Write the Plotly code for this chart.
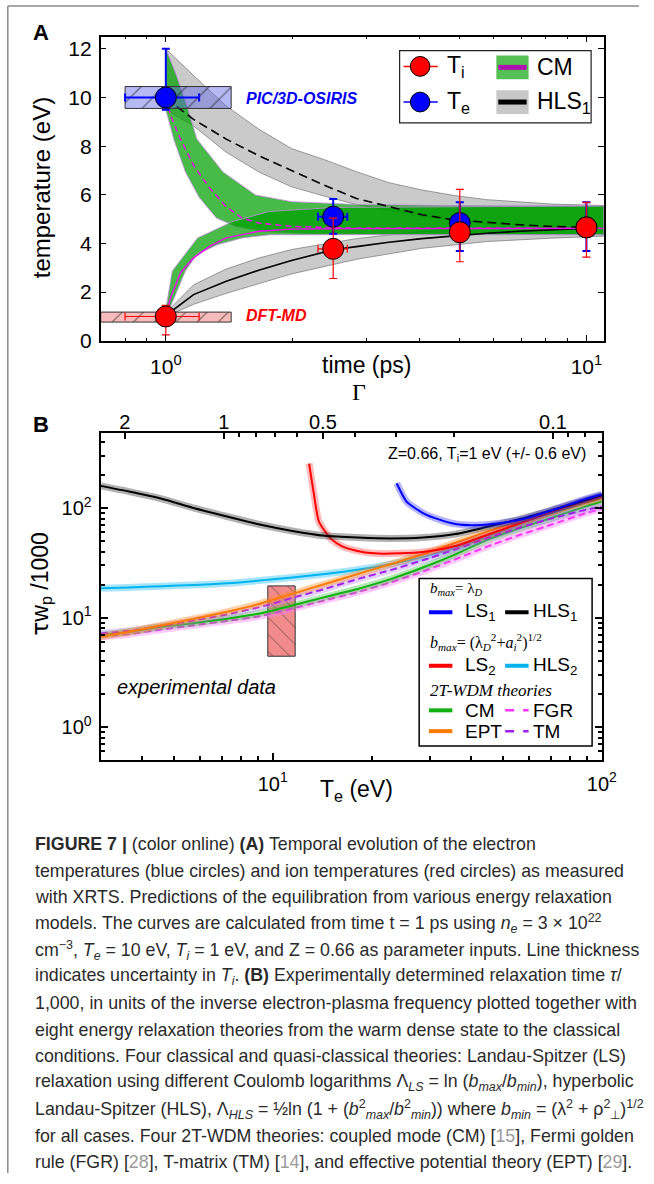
import plotly.graph_objects as go

W, H = 654, 1184
def px(x): return x / W
def py(y): return 1 - y / H

SANS = "Liberation Sans, Arial, sans-serif"
SERIF = "Liberation Serif, Times New Roman, serif"

# ---------------- Panel A data ----------------
t_meas = [1.0, 2.5, 5.0, 10.0]
Te_meas = [10.0, 5.1, 4.84, 4.66]
Te_err_up = [2.0, 0.73, 0.85, 1.03]
Te_err_dn = [0.5, 0.7, 1.15, 0.97]
Ti_meas = [1.0, 3.78, 4.46, 4.66]
Ti_err_up = [0.46, 1.26, 1.76, 1.03]
Ti_err_dn = [0.76, 1.22, 1.21, 1.22]
t_err = [0.2, 0.2, 0.0, 0.0]

# CM model (centre lines)
cm_te_t = [1.0, 1.027, 1.084, 1.164, 1.273, 1.392, 1.52, 1.663, 1.99, 2.84, 11.0]
cm_te_T = [10.0, 9.24, 8.29, 7.21, 6.26, 5.51, 5.04, 4.84, 4.70, 4.63, 4.62]
cm_ti_t = [1.0, 1.027, 1.084, 1.164, 1.273, 1.392, 1.663, 1.99, 2.84, 11.0]
cm_ti_T = [1.04, 1.79, 2.80, 3.41, 3.89, 4.23, 4.50, 4.59, 4.61, 4.62]
# CM uncertainty bands
cm_te_hi_t = [1.0, 1.055, 1.123, 1.185, 1.367, 1.634, 1.99, 2.84, 5.0, 11.0]
cm_te_hi_T = [12.0, 11.0, 9.65, 8.29, 6.94, 5.99, 5.72, 5.6, 5.56, 5.54]
cm_te_lo_t = [1.0, 1.044, 1.113, 1.2, 1.319, 1.468, 1.7, 2.2, 11.0]
cm_te_lo_T = [9.5, 8.29, 6.94, 5.9, 5.05, 4.7, 4.5, 4.4, 4.36]
cm_ti_hi_t = [1.0, 1.036, 1.19, 1.442, 1.755, 2.5, 11.0]
cm_ti_hi_T = [1.3, 2.87, 4.23, 4.9, 5.31, 5.48, 5.54]
cm_ti_lo_t = [1.0, 1.113, 1.185, 1.33, 1.52, 1.77, 11.0]
cm_ti_lo_T = [0.95, 2.87, 3.55, 3.96, 4.23, 4.36, 4.36]

# HLS1 model (centre lines)
hls_te_t = [1.0, 1.045, 1.164, 1.392, 1.663, 1.99, 2.377, 2.84, 3.39, 4.06, 4.85, 5.8, 6.93, 8.27, 9.9]
hls_te_T = [10.0, 9.72, 9.1, 8.29, 7.61, 7.0, 6.40, 5.85, 5.51, 5.18, 4.97, 4.86, 4.77, 4.70, 4.66]
hls_ti_t = [1.0, 1.164, 1.392, 1.663, 1.99, 2.5, 2.84, 3.39, 4.06, 4.85, 5.8, 6.93, 8.27, 9.9]
hls_ti_T = [1.04, 1.9, 2.45, 2.9, 3.3, 3.74, 3.87, 4.05, 4.2, 4.32, 4.42, 4.5, 4.57, 4.62]
# HLS1 uncertainty bands
hls_te_hi_t = [1.0, 1.164, 1.392, 1.663, 1.99, 2.377, 2.84, 3.39, 4.06, 4.85, 5.8, 6.93, 8.27, 11.0]
hls_te_hi_T = [12.0, 10.9, 9.65, 8.7, 7.9, 7.45, 6.95, 6.5, 6.2, 5.97, 5.8, 5.7, 5.62, 5.56]
hls_te_lo_t = [1.0, 1.164, 1.392, 1.663, 1.99, 2.377, 2.84, 4.06, 5.8, 8.27, 11.0]
hls_te_lo_T = [9.5, 8.83, 7.75, 6.94, 6.33, 5.95, 5.6, 5.1, 4.8, 4.65, 4.58]
hls_ti_hi_t = [1.0, 1.164, 1.392, 1.663, 1.99, 2.84, 4.06, 5.8, 11.0]
hls_ti_hi_T = [1.15, 2.3, 2.95, 3.4, 3.75, 4.2, 4.5, 4.65, 4.75]
hls_ti_lo_t = [1.0, 1.164, 1.392, 1.663, 1.99, 2.84, 4.06, 5.8, 8.27, 11.0]
hls_ti_lo_T = [1.0, 1.5, 1.95, 2.35, 2.75, 3.35, 3.8, 4.08, 4.22, 4.3]

# simulation boxes (time range, temperature range)
pic_t = [0.8, 1.43]
pic_T = [9.55, 10.45]
dft_t = [0.7, 1.43]
dft_T = [0.77, 1.18]

# ---------------- Panel B data ----------------
Te_grid = [3.0, 3.66, 4.6, 5.78, 7.26, 9.13, 11.47, 14.4, 18.1, 22.8, 28.6, 35.9, 45.2, 56.8, 71.3, 89.6, 100.0]
HLS1_tau = [160, 142, 122, 100, 84, 71, 62, 56, 54, 53, 54, 58, 68, 80, 97, 119, 132]
HLS2_tau = [18.6, 18.9, 19.4, 19.9, 20.6, 21.8, 23.3, 25.0, 27.4, 30.8, 35.9, 43.6, 55.6, 71, 90.4, 114, 125]
CM_tau = [6.92, 7.42, 8.24, 8.95, 9.79, 10.9, 12.9, 15.4, 18.3, 22.5, 28.7, 37.9, 51.9, 66.1, 82.6, 104, 115]
EPT_tau = [6.69, 7.42, 8.53, 9.79, 11.3, 13.4, 16.5, 20.3, 25.0, 30.8, 37.9, 48.4, 61.7, 76, 93.6, 114, 124]
TM_tau = [7.16, 7.58, 8.41, 9.45, 10.7, 12.5, 15.2, 18.3, 22.5, 27.2, 33.5, 42.1, 53.7, 67, 81.5, 96.9, 104]
FGR_tau = [6.69, 7.06, 7.79, 8.53, 9.33, 10.3, 12.1, 14.4, 17.1, 21.0, 26.4, 34.2, 45.1, 57.5, 71.9, 90.4, 98.9]
LS1_T = [23.8, 25.5, 28.6, 32.1, 35.9, 40.3, 45.2, 56.8, 71.3, 89.6, 100.0]
LS1_tau = [169, 115, 90.4, 78.7, 71.9, 70, 71, 78.7, 96.9, 122, 134]
LS2_T = [12.9, 13.3, 13.8, 14.4, 15.1, 16.2, 18.1, 20.3, 22.8, 28.6, 35.9, 45.2, 56.8, 71.3, 89.6, 100.0]
LS2_tau = [256, 142, 76, 61.7, 51.9, 45.1, 40.7, 38.7, 38.5, 39.8, 45.1, 57.5, 73.4, 93.6, 117, 128]
exp_T = [9.66, 11.7]
exp_tau = [4.44, 19.5]

GAMMA_T = 7.1  # Gamma = GAMMA_T / Te
gamma_major = [2, 1, 0.5, 0.1]
gamma_minor = [0.9, 0.8, 0.7, 0.6, 0.4, 0.3, 0.2, 0.09, 0.08]

fig = go.Figure()

def band(xhi, yhi, xlo, ylo, fillc, linec, xa="x", ya="y"):
    fig.add_trace(go.Scatter(
        x=list(xhi) + list(xlo)[::-1], y=list(yhi) + list(ylo)[::-1],
        fill="toself", fillcolor=fillc, mode="lines",
        line=dict(color=linec, width=1), xaxis=xa, yaxis=ya,
        hoverinfo="skip", showlegend=False))

# gray HLS bands
band(hls_te_hi_t, hls_te_hi_T, hls_te_lo_t, hls_te_lo_T, "rgba(150,150,150,0.5)", "rgba(130,130,130,0.8)")
band(hls_ti_hi_t, hls_ti_hi_T, hls_ti_lo_t, hls_ti_lo_T, "rgba(150,150,150,0.5)", "rgba(130,130,130,0.8)")
# green CM bands
band(cm_te_hi_t, cm_te_hi_T, cm_te_lo_t, cm_te_lo_T, "rgba(0,160,0,0.72)", "rgba(190,140,220,0.8)")
band(cm_ti_hi_t, cm_ti_hi_T, cm_ti_lo_t, cm_ti_lo_T, "rgba(0,160,0,0.72)", "rgba(190,140,220,0.8)")

# centre lines
fig.add_trace(go.Scatter(x=hls_te_t, y=hls_te_T, mode="lines",
                         line=dict(color="black", width=1.6, dash="9px,5px"), showlegend=False))
fig.add_trace(go.Scatter(x=hls_ti_t, y=hls_ti_T, mode="lines",
                         line=dict(color="black", width=1.6), showlegend=False))
fig.add_trace(go.Scatter(x=cm_te_t, y=cm_te_T, mode="lines",
                         line=dict(color="#ff00ff", width=1.4, dash="6px,4px"), showlegend=False))
fig.add_trace(go.Scatter(x=cm_ti_t, y=cm_ti_T, mode="lines",
                         line=dict(color="#ff00ff", width=1.4), showlegend=False))

# simulation boxes
def hatched_box(xr, yr, bg, shape, size, xa="x", ya="y"):
    fig.add_trace(go.Scatter(
        x=[xr[0], xr[1], xr[1], xr[0], xr[0]], y=[yr[0], yr[0], yr[1], yr[1], yr[0]],
        fill="toself", fillcolor=bg, mode="lines",
        line=dict(color="#333333", width=1),
        fillpattern=dict(shape=shape, fgcolor="#111111", bgcolor=bg, size=size, solidity=0.08),
        xaxis=xa, yaxis=ya, hoverinfo="skip", showlegend=False))

hatched_box(pic_t, pic_T, "rgba(90,100,230,0.45)", "/", 16)
hatched_box(dft_t, dft_T, "rgba(240,120,120,0.5)", "/", 15)

# measured points
fig.add_trace(go.Scatter(
    x=t_meas, y=Te_meas, mode="markers",
    marker=dict(size=21, color="#0000ff", line=dict(color="black", width=1)),
    error_y=dict(type="data", symmetric=False, array=Te_err_up, arrayminus=Te_err_dn,
                 color="#0000ff", thickness=2, width=4),
    error_x=dict(type="data", array=t_err, color="#0000ff", thickness=2, width=4),
    showlegend=False))
fig.add_trace(go.Scatter(
    x=t_meas, y=Ti_meas, mode="markers",
    marker=dict(size=21, color="#ff0000", line=dict(color="black", width=1)),
    error_y=dict(type="data", symmetric=False, array=Ti_err_up, arrayminus=Ti_err_dn,
                 color="#ff0000", thickness=1.2, width=4),
    error_x=dict(type="data", array=t_err, color="#ff0000", thickness=1.2, width=4),
    showlegend=False))

# ---------------- Panel B traces ----------------
hatched_box(exp_T, exp_tau, "rgba(240,120,120,0.85)", "\\", 12, xa="x2", ya="y2")

def curve(xs, ys, color, band_color, dash="solid"):
    fig.add_trace(go.Scatter(x=xs, y=ys, mode="lines", xaxis="x2", yaxis="y2",
                             line=dict(color=band_color, width=7, shape="spline", smoothing=0.6),
                             hoverinfo="skip", showlegend=False))
    fig.add_trace(go.Scatter(x=xs, y=ys, mode="lines", xaxis="x2", yaxis="y2",
                             line=dict(color=color, width=2, dash=dash, shape="spline", smoothing=0.6),
                             showlegend=False))

curve(Te_grid, HLS2_tau, "#00b4f0", "rgba(0,180,240,0.35)")
curve(Te_grid, FGR_tau, "#ff33ff", "rgba(255,120,255,0.4)", dash="7px,4px")
curve(Te_grid, CM_tau, "#10b010", "rgba(40,190,40,0.35)")
curve(Te_grid, TM_tau, "#a020f0", "rgba(180,120,240,0.35)", dash="7px,4px")
curve(Te_grid, EPT_tau, "#ff7a00", "rgba(255,140,40,0.4)")
curve(LS2_T, LS2_tau, "#ff0000", "rgba(255,60,60,0.35)")
curve(Te_grid, HLS1_tau, "#000000", "rgba(60,60,60,0.4)")
curve(LS1_T, LS1_tau, "#0000ff", "rgba(40,40,255,0.35)")

# ---------------- Axes ----------------
axA_dom_x = [px(103), px(618)]
axA_dom_y = [py(344), py(37)]
axB_dom_x = [px(103), px(616)]
axB_dom_y = [py(767), py(437)]

tickfontA = dict(family=SANS, size=21, color="black")
tickfontB = dict(family=SANS, size=20, color="black")

fig.update_layout(
    width=W, height=H, margin=dict(l=0, r=0, t=0, b=0),
    paper_bgcolor="white", plot_bgcolor="white", showlegend=False,
    xaxis=dict(domain=axA_dom_x, anchor="y", type="log", range=[-0.155, 1.0414],
               tickvals=[1, 10], ticktext=["10<sup>0</sup>", "10<sup>1</sup>"],
               ticks="inside", ticklen=6, tickwidth=1.2, tickcolor="black",
               minor=dict(tickvals=[0.7, 0.8, 0.9, 2, 3, 4, 5, 6, 7, 8, 9], ticks="inside",
                          ticklen=3, tickcolor="black"),
               showline=True, linecolor="black", linewidth=1.5, mirror="ticks",
               showgrid=False, zeroline=False, tickfont=tickfontA, ticklabelstandoff=6),
    yaxis=dict(domain=axA_dom_y, anchor="x", range=[0, 12.5], tickvals=[0, 2, 4, 6, 8, 10, 12],
               ticks="inside", ticklen=6, tickwidth=1.2, tickcolor="black",
               showline=True, linecolor="black", linewidth=1.5, mirror="ticks",
               showgrid=False, zeroline=False, tickfont=tickfontA, ticklabelstandoff=3),
    xaxis2=dict(domain=axB_dom_x, anchor="y2", type="log", range=[0.4771, 2.0],
                tickvals=[10, 100], ticktext=["10<sup>1</sup>", "10<sup>2</sup>"],
                ticks="inside", ticklen=7, tickwidth=1.5, tickcolor="black",
                minor=dict(tickvals=[3, 4, 5, 6, 7, 8, 9, 20, 30, 40, 50, 60, 70, 80, 90],
                           ticks="inside", ticklen=4, tickcolor="black"),
                showline=True, linecolor="black", linewidth=2, mirror=True,
                showgrid=False, zeroline=False, tickfont=tickfontB, ticklabelstandoff=5),
    yaxis2=dict(domain=axB_dom_y, anchor="x2", type="log", range=[-0.3, 2.688],
                tickvals=[1, 10, 100], ticktext=["10<sup>0</sup>", "10<sup>1</sup>", "10<sup>2</sup>"],
                ticks="inside", ticklen=7, tickwidth=1.5, tickcolor="black",
                minor=dict(tickvals=[0.6, 0.7, 0.8, 0.9, 2, 3, 4, 5, 6, 7, 8, 9,
                                     20, 30, 40, 50, 60, 70, 80, 90, 200, 300, 400],
                           ticks="inside", ticklen=4, tickcolor="black"),
                showline=True, linecolor="black", linewidth=2, mirror="ticks",
                showgrid=False, zeroline=False, tickfont=tickfontB, ticklabelstandoff=3),
    xaxis3=dict(overlaying="x2", anchor="y2", side="top", type="log", range=[0.4771, 2.0],
                tickvals=[GAMMA_T / g for g in gamma_major], ticktext=[str(g) for g in gamma_major],
                ticks="inside", ticklen=6, tickwidth=1.5, tickcolor="black",
                minor=dict(tickvals=[GAMMA_T / g for g in gamma_minor], ticks="inside",
                           ticklen=4, tickcolor="black"),
                showline=True, linecolor="black", linewidth=2,
                showgrid=False, zeroline=False, tickfont=tickfontB, ticklabelstandoff=-6),
)
# dummy trace to activate xaxis3
fig.add_trace(go.Scatter(x=[GAMMA_T / g for g in gamma_major], y=[None] * 4, xaxis="x3", yaxis="y2",
                         mode="markers", showlegend=False, hoverinfo="skip"))

ann = []
shapes = []
def text(x, y, s, size, color="black", family=SANS, anchor="center", angle=0):
    ann.append(dict(x=px(x), y=py(y), xref="paper", yref="paper", text=s, showarrow=False,
                    xanchor=anchor, yanchor="middle", textangle=angle,
                    font=dict(family=family, size=size, color=color)))

# frame
shapes.append(dict(type="line", xref="paper", yref="paper", x0=px(8), x1=1, y0=py(6), y1=py(6),
                   line=dict(color="#8a8a8a", width=1.5)))
shapes.append(dict(type="line", xref="paper", yref="paper", x0=px(8), x1=px(8), y0=py(6), y1=0,
                   line=dict(color="#8a8a8a", width=1.5)))

# Panel A labels
text(42, 33, "<b>A</b>", 22)
text(42, 190, "temperature (eV)", 24, angle=-90)
text(375, 368, "time (ps)", 23)
text(250, 99, "<b><i>PIC/3D-OSIRIS</i></b>", 16, color="#0000ff", anchor="left")
text(250, 318, "<b><i>DFT-MD</i></b>", 16, color="#ff0000", anchor="left")

# Panel A legend
shapes.append(dict(type="rect", xref="paper", yref="paper", x0=px(409), x1=px(605), y0=py(124), y1=py(51),
                   line=dict(color="#222222", width=1.2), fillcolor="white"))
for yy, col, lab in [(67, "#ff0000", "T<sub>i</sub>"), (103, "#0000ff", "T<sub>e</sub>")]:
    shapes.append(dict(type="line", xref="paper", yref="paper", x0=px(413), x1=px(448), y0=py(yy), y1=py(yy),
                       line=dict(color=col, width=1.5)))
    shapes.append(dict(type="circle", xref="paper", yref="paper", x0=px(420), x1=px(440),
                       y0=py(yy + 10), y1=py(yy - 10), fillcolor=col, line=dict(color="black", width=1)))
    text(455, yy, lab, 23, anchor="left")
for yy, bg, lc, lab in [(68, "#55c055", "#b010b0", "CM"), (103, "#c8c8c8", "#000000", "HLS<sub>1</sub>")]:
    shapes.append(dict(type="rect", xref="paper", yref="paper", x0=px(508), x1=px(541),
                       y0=py(yy + 12), y1=py(yy - 12), fillcolor=bg, line=dict(width=0)))
    shapes.append(dict(type="line", xref="paper", yref="paper", x0=px(510), x1=px(539), y0=py(yy), y1=py(yy),
                       line=dict(color=lc, width=5)))
    text(548, yy, lab, 23, anchor="left")

# Panel B labels
text(42, 428, "<b>B</b>", 22)
text(367, 396, "Γ", 24, family=SERIF)
text(42, 590, "<span style='font-family:DejaVu Sans'>τ</span>w<sub>p</sub> /1000", 23, angle=-90)
text(365, 798, "T<sub>e</sub> (eV)", 23)
text(602, 459, "Z=0.66, T<sub>i</sub>=1 eV (+/- 0.6 eV)", 16, anchor="right")
text(118, 693, "<i>experimental data</i>", 20, anchor="left")

# Panel B legend
shapes.append(dict(type="rect", xref="paper", yref="paper", x0=px(429), x1=px(606), y0=py(753), y1=py(584),
                   line=dict(color="black", width=1.5), fillcolor="white"))
text(438, 595, "<i>b<sub>max</sub></i>= λ<sub><i>D</i></sub>", 15, family=SERIF, anchor="left")
text(438, 648, "<i>b<sub>max</sub></i>= (λ<sub><i>D</i></sub><sup>2</sup>+<i>a</i><sub><i>i</i></sub><sup>2</sup>)<sup>1/2</sup>",
     16, family=SERIF, anchor="left")
text(438, 697, "<i>2T-WDM theories</i>", 17, family=SERIF, anchor="left")
legB = [
    (618, "#0000ff", "solid", "LS<sub>1</sub>", "#000000", "solid", "HLS<sub>1</sub>"),
    (672, "#ff0000", "solid", "LS<sub>2</sub>", "#00b4f0", "solid", "HLS<sub>2</sub>"),
    (717, "#10b010", "solid", "CM", "#ff33ff", "dash", "FGR"),
    (738, "#ff7a00", "solid", "EPT", "#a020f0", "dash", "TM"),
]
for yy, c1, d1, l1, c2, d2, l2 in legB:
    shapes.append(dict(type="line", xref="paper", yref="paper", x0=px(439), x1=px(463), y0=py(yy), y1=py(yy),
                       line=dict(color=c1, width=4, dash=d1)))
    shapes.append(dict(type="line", xref="paper", yref="paper", x0=px(517), x1=px(541), y0=py(yy), y1=py(yy),
                       line=dict(color=c2, width=2.5 if d2 == "dash" else 4, dash=d2)))
    text(474, yy, l1, 19, anchor="left")
    text(543, yy, l2, 19, anchor="left")

# caption
GR = "<span style='color:#9a9a9a'>"
caption = [
    "<b>FIGURE 7 |</b> (color online) <b>(A)</b> Temporal evolution of the electron",
    "temperatures (blue circles) and ion temperatures (red circles) as measured",
    "with XRTS. Predictions of the equilibration from various energy relaxation",
    "models. The curves are calculated from time t = 1 ps using <i>n<sub>e</sub></i> = 3 × 10<sup>22</sup>",
    "cm<sup>−3</sup>, <i>T<sub>e</sub></i> = 10 eV, <i>T<sub>i</sub></i> = 1 eV, and Z = 0.66 as parameter inputs. Line thickness",
    "indicates uncertainty in <i>T<sub>i</sub></i>. <b>(B)</b> Experimentally determined relaxation time <i>τ</i>/",
    "1,000, in units of the inverse electron-plasma frequency plotted together with",
    "eight energy relaxation theories from the warm dense state to the classical",
    "conditions. Four classical and quasi-classical theories: Landau-Spitzer (LS)",
    "relaxation using different Coulomb logarithms Λ<sub><i>LS</i></sub> = ln (<i>b<sub>max</sub></i>/<i>b<sub>min</sub></i>), hyperbolic",
    "Landau-Spitzer (HLS), Λ<sub><i>HLS</i></sub> = ½ln (1 + (<i>b</i><sup>2</sup><sub><i>max</i></sub>/<i>b</i><sup>2</sup><sub><i>min</i></sub>)) where <i>b<sub>min</sub></i> = (λ<sup>2</sup> + ρ<sup>2</sup><sub>⊥</sub>)<sup>1/2</sup>",
    "for all cases. Four 2T-WDM theories: coupled mode (CM) [" + GR + "15</span>], Fermi golden",
    "rule (FGR) [" + GR + "28</span>], T-matrix (TM) [" + GR + "14</span>], and effective potential theory (EPT) [" + GR + "29</span>].",
]
for i, line in enumerate(caption):
    text(34, 852 + i * 26.75, line, 17.8, color="#2a2a2a", anchor="left")

fig.update_layout(annotations=ann, shapes=shapes)
fig.write_html("out.html", config={"displayModeBar": False},
               post_script="document.body.style.margin='0px';")
